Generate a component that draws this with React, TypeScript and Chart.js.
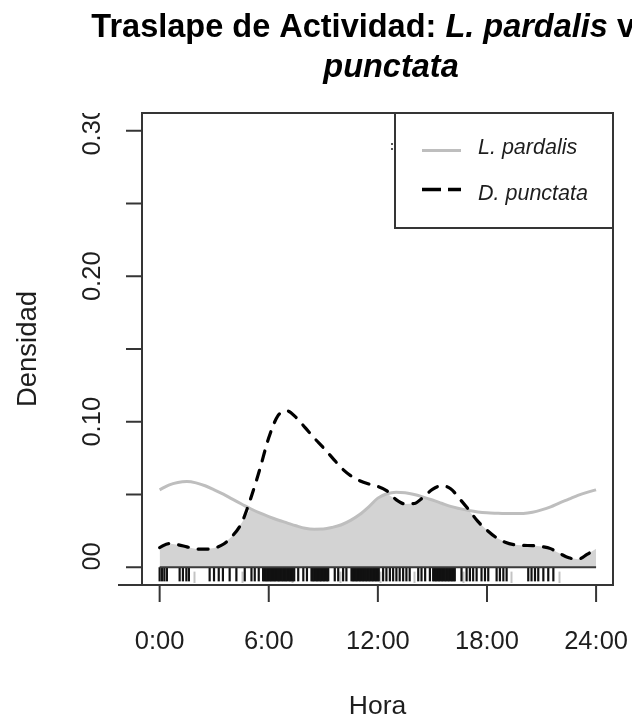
import React, { useEffect, useRef } from "react";
import { Chart, registerables } from "chart.js";

Chart.register(...registerables);

// ---------- data ----------
const hours = [
  0, 0.5, 1, 1.5, 2, 2.5, 3, 3.5, 4, 4.5, 5, 5.5, 6, 6.5, 7, 7.5, 8, 8.5, 9, 9.5,
  10, 10.5, 11, 11.5, 12, 12.5, 13, 13.5, 14, 14.5, 15, 15.5, 16, 16.5, 17, 17.5,
  18, 18.5, 19, 19.5, 20, 20.5, 21, 21.5, 22, 22.5, 23, 23.5, 24,
];

// L. pardalis (solid grey)
const lpDensity = [
  0.0532, 0.0565, 0.0583, 0.0589, 0.058, 0.056, 0.0532, 0.0502, 0.0468, 0.0435,
  0.0402, 0.0373, 0.0348, 0.0325, 0.0305, 0.0285, 0.0268, 0.0262, 0.0263, 0.0274,
  0.0292, 0.0322, 0.0362, 0.0415, 0.0475, 0.0505, 0.0516, 0.0512, 0.05, 0.0482,
  0.0462, 0.044, 0.0418, 0.0403, 0.039, 0.038, 0.0374, 0.0371, 0.0369, 0.0369,
  0.037, 0.0378, 0.0394, 0.0415, 0.0443, 0.0468, 0.0494, 0.0515, 0.0532,
];

// D. punctata (dashed black)
const dpDensity = [
  0.0135, 0.0163, 0.0155, 0.014, 0.0126, 0.0124, 0.0132, 0.0158, 0.0215, 0.0303,
  0.047, 0.067, 0.089, 0.104, 0.1075, 0.103, 0.096, 0.0888, 0.0822, 0.0752,
  0.0682, 0.063, 0.0595, 0.0572, 0.0555, 0.0525, 0.0465, 0.0435, 0.0438, 0.0482,
  0.0535, 0.056, 0.054, 0.047, 0.0395, 0.0315, 0.0255, 0.0205, 0.0172, 0.0155,
  0.015, 0.0149, 0.0142, 0.0128, 0.0095, 0.0065, 0.0055, 0.0088, 0.0128,
];

// observation times (rug)
const lpRug = [1.9, 4.55, 7.3, 9.9, 12.1, 14.0, 16.7, 19.3, 21.95];
const dpRug = [
  0.0, 0.13, 0.26, 0.4, 1.1, 1.28, 1.47, 1.61, 2.75, 2.99, 3.25, 3.48, 3.85, 4.22,
  4.68, 5.05, 5.23, 5.45, 5.69, 5.77, 5.84, 5.92, 5.98, 6.06, 6.13, 6.2, 6.27,
  6.34, 6.42, 6.5, 6.57, 6.64, 6.72, 6.8, 6.87, 6.94, 7.02, 7.1, 7.17, 7.24, 7.32,
  7.4, 7.62, 7.9, 8.1, 8.35, 8.42, 8.5, 8.58, 8.66, 8.73, 8.81, 8.88, 8.96, 9.04,
  9.12, 9.2, 9.27, 9.63, 9.82, 10.09, 10.27, 10.55, 10.63, 10.71, 10.78, 10.86,
  10.94, 11.02, 11.1, 11.18, 11.26, 11.34, 11.42, 11.5, 11.58, 11.66, 11.74, 11.82,
  11.9, 11.98, 12.05, 12.29, 12.47, 12.66, 12.84, 13.02, 13.2, 13.39, 13.57, 13.75,
  14.22, 14.4, 14.6, 14.86, 15.04, 15.12, 15.2, 15.28, 15.36, 15.44, 15.52, 15.6,
  15.68, 15.76, 15.84, 15.92, 16.0, 16.08, 16.16, 16.23, 16.6, 16.88, 17.06, 17.24,
  17.43, 17.7, 17.89, 18.07, 18.53, 18.71, 18.9, 19.08, 20.27, 20.45, 20.64, 20.82,
  21.1, 21.37, 21.65,
];

const yTicks = [0, 0.05, 0.1, 0.15, 0.2, 0.25, 0.3];
const yTickLabels = ["0.00", "", "0.10", "", "0.20", "", "0.30"];
const xTicks = [0, 6, 12, 18, 24];
const xTickLabels = ["0:00", "6:00", "12:00", "18:00", "24:00"];
const seriesNames = ["L. pardalis", "D. punctata"];
const titleLine1 = [
  { text: "Traslape de Actividad: ", italic: false },
  { text: "L. pardalis", italic: true },
  { text: " vs ", italic: false },
  { text: "D.", italic: true },
];
const titleLine2 = [{ text: "punctata", italic: true }];
const xLabel = "Hora";
const yLabel = "Densidad";

// ---------- styles ----------
const FONT = '"Liberation Sans", Arial, Helvetica, sans-serif';
const GREY_LINE = "#bebebe";
const FILL = "#d3d3d3";
const AXIS = "#353535";
const TEXT = "#1e1e1e";

const decor = {
  id: "decor",
  afterDatasetsDraw(chart: any) {
    const { ctx, scales } = chart;
    const x = scales.x;
    const y = scales.y;
    ctx.save();
    // rug: L. pardalis (grey)
    ctx.lineWidth = 2;
    ctx.strokeStyle = "#c4c4c4";
    const y0 = y.getPixelForValue(0);
    for (const t of lpRug) {
      const px = Math.round(x.getPixelForValue(t)) + 0.5;
      ctx.beginPath();
      ctx.moveTo(px, y.getPixelForValue(-0.003));
      ctx.lineTo(px, y.getPixelForValue(-0.0108));
      ctx.stroke();
    }
    // rug: D. punctata (black)
    ctx.strokeStyle = "#111";
    ctx.lineWidth = 2.2;
    for (const t of dpRug) {
      const px = x.getPixelForValue(t);
      ctx.beginPath();
      ctx.moveTo(px, y0);
      ctx.lineTo(px, y.getPixelForValue(-0.0097));
      ctx.stroke();
    }
    // baseline
    ctx.strokeStyle = "#3a3a3a";
    ctx.lineWidth = 2.2;
    ctx.beginPath();
    ctx.moveTo(x.getPixelForValue(0), y0);
    ctx.lineTo(x.getPixelForValue(24), y0);
    ctx.stroke();
    ctx.restore();
  },
  afterDraw(chart: any) {
    const { ctx, chartArea: a, scales } = chart;
    const x = scales.x;
    const y = scales.y;
    ctx.save();
    // plot box
    ctx.strokeStyle = AXIS;
    ctx.lineWidth = 2;
    ctx.strokeRect(a.left, a.top, a.right - a.left, a.bottom - a.top);
    ctx.beginPath();
    ctx.moveTo(a.left - 24, a.bottom);
    ctx.lineTo(a.left, a.bottom);
    ctx.stroke();

    // y ticks
    for (const v of yTicks) {
      const py = y.getPixelForValue(v);
      ctx.beginPath();
      ctx.moveTo(a.left - 16, py);
      ctx.lineTo(a.left, py);
      ctx.stroke();
    }
    // x ticks
    for (const v of xTicks) {
      const px = x.getPixelForValue(v);
      ctx.beginPath();
      ctx.moveTo(px, a.bottom);
      ctx.lineTo(px, a.bottom + 17);
      ctx.stroke();
    }

    ctx.fillStyle = TEXT;
    // y tick labels (clipped to plot height)
    ctx.save();
    ctx.beginPath();
    ctx.rect(0, a.top, a.left - 20, y.getPixelForValue(0) + 2 - a.top);
    ctx.clip();
    ctx.font = `25.5px ${FONT}`;
    ctx.textAlign = "center";
    ctx.textBaseline = "alphabetic";
    yTicks.forEach((v, i) => {
      const lab = yTickLabels[i];
      if (!lab) return;
      ctx.save();
      ctx.translate(100, y.getPixelForValue(v));
      ctx.rotate(-Math.PI / 2);
      ctx.fillText(lab, 0, 0);
      ctx.restore();
    });
    ctx.restore();

    // x tick labels
    ctx.font = `25.5px ${FONT}`;
    ctx.textAlign = "center";
    ctx.textBaseline = "alphabetic";
    xTicks.forEach((v, i) => {
      ctx.fillText(xTickLabels[i], x.getPixelForValue(v), 649);
    });

    // axis titles
    ctx.font = `26.5px ${FONT}`;
    ctx.fillText(xLabel, (a.left + a.right) / 2, 714);
    ctx.save();
    ctx.translate(36, 349);
    ctx.rotate(-Math.PI / 2);
    ctx.font = `27.5px ${FONT}`;
    ctx.fillText(yLabel, 0, 0);
    ctx.restore();

    // main title
    const drawLine = (segs: { text: string; italic: boolean }[], cx: number, by: number) => {
      const fontFor = (it: boolean) => `${it ? "italic " : ""}bold 32.5px ${FONT}`;
      let total = 0;
      for (const s of segs) {
        ctx.font = fontFor(s.italic);
        total += ctx.measureText(s.text).width;
      }
      let cur = cx - total / 2;
      ctx.textAlign = "left";
      for (const s of segs) {
        ctx.font = fontFor(s.italic);
        ctx.fillStyle = "#000";
        ctx.fillText(s.text, cur, by);
        cur += ctx.measureText(s.text).width;
      }
    };
    drawLine(titleLine1, 393, 37);
    drawLine(titleLine2, 391, 77);

    // legend
    const lx = 395;
    const ly = a.top;
    const lr = a.right;
    const lb = 228;
    ctx.fillStyle = "#fff";
    ctx.fillRect(lx, ly, lr - lx, lb - ly);
    ctx.strokeStyle = AXIS;
    ctx.lineWidth = 2;
    ctx.strokeRect(lx, ly, lr - lx, lb - ly);
    // small artifact mark
    ctx.fillStyle = "#555";
    ctx.fillRect(391, 143, 2, 2);
    ctx.fillRect(391, 148, 2, 2);

    ctx.lineCap = "butt";
    ctx.strokeStyle = GREY_LINE;
    ctx.lineWidth = 3;
    ctx.beginPath();
    ctx.moveTo(422, 150.5);
    ctx.lineTo(461, 150.5);
    ctx.stroke();
    ctx.strokeStyle = "#000";
    ctx.lineWidth = 3.5;
    ctx.setLineDash([19, 7]);
    ctx.beginPath();
    ctx.moveTo(422, 189.5);
    ctx.lineTo(461, 189.5);
    ctx.stroke();
    ctx.setLineDash([]);

    ctx.fillStyle = TEXT;
    ctx.font = `italic 21.5px ${FONT}`;
    ctx.textAlign = "left";
    ctx.fillText(seriesNames[0], 478, 154);
    ctx.fillText(seriesNames[1], 478, 200);
    ctx.restore();
  },
};

export default function App() {
  const ref = useRef<HTMLCanvasElement | null>(null);
  useEffect(() => {
    document.body.style.margin = "0";
    const canvas = ref.current;
    if (!canvas) return;
    const overlap = hours.map((h, i) => ({ x: h, y: Math.min(lpDensity[i], dpDensity[i]) }));
    const chart = new Chart(canvas, {
      type: "line",
      data: {
        datasets: [
          {
            label: "overlap",
            data: overlap,
            fill: "origin",
            backgroundColor: FILL,
            borderWidth: 0,
            borderColor: "rgba(0,0,0,0)",
            pointRadius: 0,
            order: 3,
          },
          {
            label: seriesNames[0],
            data: hours.map((h, i) => ({ x: h, y: lpDensity[i] })),
            borderColor: GREY_LINE,
            borderWidth: 3,
            pointRadius: 0,
            fill: false,
            cubicInterpolationMode: "monotone",
            order: 2,
          },
          {
            label: seriesNames[1],
            data: hours.map((h, i) => ({ x: h, y: dpDensity[i] })),
            borderColor: "#000",
            borderWidth: 3.2,
            borderDash: [10, 10],
            borderCapStyle: "round",
            borderJoinStyle: "round",
            pointRadius: 0,
            fill: false,
            cubicInterpolationMode: "monotone",
            order: 1,
          },
        ],
      },
      options: {
        animation: false,
        responsive: false,
        devicePixelRatio: 1,
        layout: { padding: { left: 142, right: 19, top: 113, bottom: 132 } },
        plugins: { legend: { display: false }, tooltip: { enabled: false }, title: { display: false } },
        scales: {
          x: { type: "linear", min: -0.97, max: 24.93, display: false },
          y: { type: "linear", min: -0.0122, max: 0.3122, display: false },
        },
      },
      plugins: [decor],
    } as any);
    return () => chart.destroy();
  }, []);
  return (
    <div style={{ position: "absolute", left: 0, top: 0, width: 632, height: 717, background: "#fff" }}>
      <canvas ref={ref} width={632} height={717} style={{ display: "block" }} />
    </div>
  );
}
